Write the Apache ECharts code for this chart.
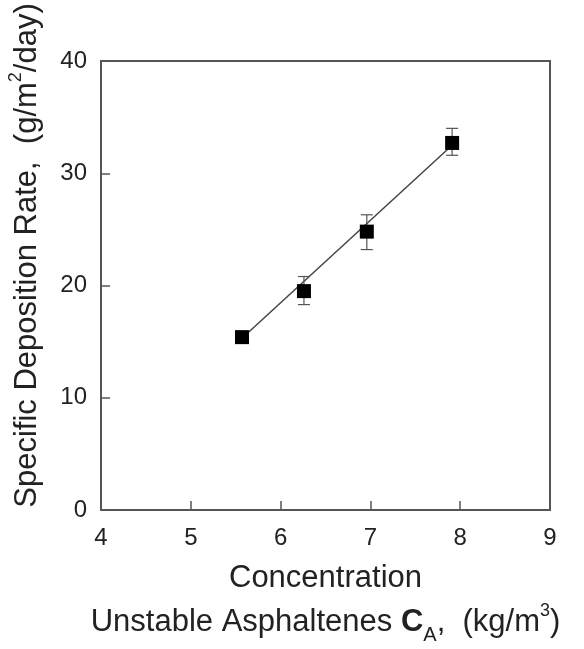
<!DOCTYPE html>
<html>
<head>
<meta charset="utf-8">
<script src="https://cdn.jsdelivr.net/npm/echarts@6/dist/echarts.min.js"></script>
<style>html,body{margin:0;padding:0;background:#fff}#c{width:584px;height:649px}</style>
</head>
<body>
<div id="c"></div>
<script>
// Data
var concentration = [5.57, 6.26, 6.96, 7.91];
var depositionRate = [15.4, 19.5, 24.8, 32.7];
var errorLow = [14.9, 18.3, 23.2, 31.6];
var errorHigh = [15.9, 20.8, 26.3, 34.0];
var fitX = [5.57, 7.91];
var fitY = [15.3, 32.5];
var xTicks = [4, 5, 6, 7, 8, 9];
var yTicks = [0, 10, 20, 30, 40];

var FONT = 'Liberation Sans';
var chart = echarts.init(document.getElementById('c'));

var points = concentration.map(function (x, i) { return [x, depositionRate[i]]; });
var errs = concentration.map(function (x, i) { return [x, errorLow[i], errorHigh[i]]; });
var fit = fitX.map(function (x, i) { return [x, fitY[i]]; });

chart.setOption({
  animation: false,
  backgroundColor: '#fff',
  grid: { left: 101, right: 34, top: 61, bottom: 139, containLabel: false, outerBoundsMode: 'none',
          show: true, borderColor: '#555', borderWidth: 2 },
  xAxis: {
    type: 'value', min: xTicks[0], max: xTicks[xTicks.length - 1], interval: 1,
    axisLine: { lineStyle: { color: '#555', width: 2 } },
    axisTick: { inside: true, length: 9, lineStyle: { color: '#555', width: 1.5 } },
    splitLine: { show: false },
    axisLabel: { color: '#222', fontFamily: FONT, fontSize: 24, margin: 16 },
    name: '{a|Concentration}\n{a|Unstable Asphaltenes }{b|C}{s|A}{a|,  (kg/m}{p|3}{a|)}',
    nameLocation: 'middle', nameGap: 46,
    nameTextStyle: {
      color: '#222', fontFamily: FONT, fontSize: 31, lineHeight: 44,
      rich: {
        a: { fontFamily: FONT, fontSize: 31, color: '#222', lineHeight: 44 },
        b: { fontFamily: FONT, fontSize: 31, fontWeight: 'bold', color: '#222', lineHeight: 44 },
        s: { fontFamily: FONT, fontSize: 20, color: '#222', lineHeight: 44, padding: [26, 0, 0, 0] },
        p: { fontFamily: FONT, fontSize: 18, color: '#222', lineHeight: 44, padding: [0, 0, 22, 0] }
      }
    }
  },
  yAxis: {
    type: 'value', min: yTicks[0], max: yTicks[yTicks.length - 1], interval: 10,
    axisLine: { lineStyle: { color: '#555', width: 2 } },
    axisTick: { inside: true, length: 9, lineStyle: { color: '#555', width: 1.5 } },
    splitLine: { show: false },
    axisLabel: { color: '#222', fontFamily: FONT, fontSize: 24, margin: 14 },
    name: '{a|Specific Deposition Rate,  (g/m}{p|2}{a|/day)}',
    nameLocation: 'middle', nameGap: 56, nameRotate: 90,
    nameTextStyle: {
      color: '#222', fontFamily: FONT, fontSize: 31, padding: [0, 0, 0, 60],
      rich: {
        a: { fontFamily: FONT, fontSize: 31, color: '#222', lineHeight: 36 },
        p: { fontFamily: FONT, fontSize: 18, color: '#222', lineHeight: 36, padding: [0, 0, 22, 0] }
      }
    }
  },
  series: [
    {
      type: 'line', data: fit, symbol: 'none',
      lineStyle: { color: '#444', width: 1.5 }, z: 2
    },
    {
      type: 'custom', data: errs, z: 3,
      renderItem: function (params, api) {
        var x = api.value(0);
        var lo = api.coord([x, api.value(1)]);
        var hi = api.coord([x, api.value(2)]);
        var w = 6;
        var st = { stroke: '#555', lineWidth: 1.2, fill: null };
        return {
          type: 'group',
          children: [
            { type: 'line', shape: { x1: lo[0], y1: lo[1], x2: hi[0], y2: hi[1] }, style: st },
            { type: 'line', shape: { x1: lo[0] - w, y1: lo[1], x2: lo[0] + w, y2: lo[1] }, style: st },
            { type: 'line', shape: { x1: hi[0] - w, y1: hi[1], x2: hi[0] + w, y2: hi[1] }, style: st }
          ]
        };
      }
    },
    {
      type: 'scatter', data: points, symbol: 'rect', symbolSize: 14,
      itemStyle: { color: '#000', opacity: 1 }, z: 4
    }
  ]
});
</script>
</body>
</html>
